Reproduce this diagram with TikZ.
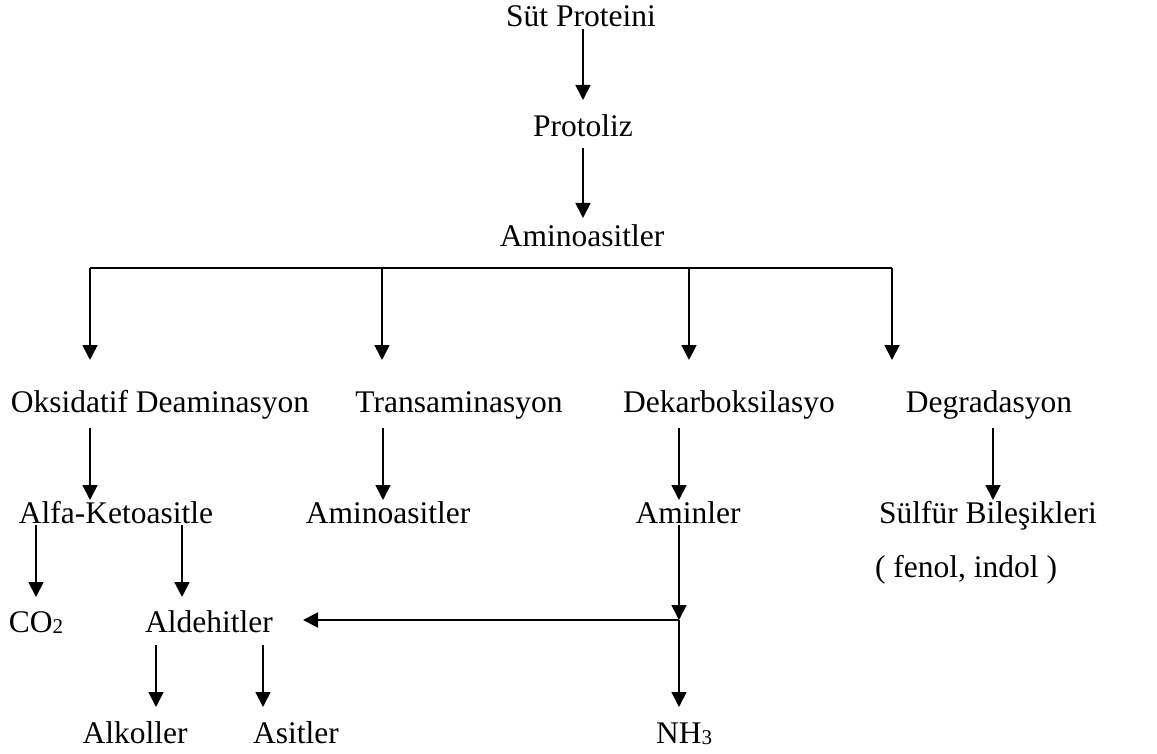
\documentclass[tikz,border=0pt]{standalone}
\usepackage{fontspec}
\setmainfont{Liberation Serif}
\usetikzlibrary{arrows.meta}
\newcommand{\subsc}[1]{\raisebox{-1pt}{\fontsize{21}{21}\selectfont #1}}
\begin{document}
\begin{tikzpicture}[x=1pt,y=-1pt,
  lbl/.style={inner sep=0pt,anchor=base,font=\fontsize{31.5}{36}\selectfont},
  arr/.style={line width=1.8pt,-{Triangle[width=15pt,length=15pt]}},
  ln/.style={line width=1.8pt}]
\useasboundingbox (0,0) rectangle (1157,754);
% texts
\node[lbl] (sut) at (581,27) {Süt Proteini};
\node[lbl] (prot) at (583,137) {Protoliz};
\node[lbl] (amino) at (582,247) {Aminoasitler};
\node[lbl] (oks) at (160,412) {Oksidatif Deaminasyon};
\node[lbl] (trans) at (459,412) {Transaminasyon};
\node[lbl] (dek) at (729,412) {Dekarboksilasyo};
\node[lbl] (deg) at (989,412) {Degradasyon};
\node[lbl] (alfa) at (116,523) {Alfa-Ketoasitle};
\node[lbl] (amino2) at (388,523) {Aminoasitler};
\node[lbl] (aminler) at (688,523) {Aminler};
\node[lbl] (sulfur) at (988,523) {Sülfür Bileşikleri};
\node[lbl] (fenol) at (966,577) {( fenol, indol )};
\node[lbl] (co) at (36,632) {CO\subsc{2}};
\node[lbl] (ald) at (209,632) {Aldehitler};
\node[lbl] (alk) at (135,743) {Alkoller};
\node[lbl] (asit) at (296,743) {Asitler};
\node[lbl] (nh) at (684,743) {NH\subsc{3}};
% coordinates
\coordinate (b1) at (90,268);
\coordinate (b2) at (382,268);
\coordinate (b3) at (689,268);
\coordinate (b4) at (892,268);
\coordinate (j) at (679,620);
% connectors
\draw[arr] (583,29) -- (583,100);
\draw[arr] (583,148) -- (583,218);
\draw[ln] (b1) -- (b4);
\draw[arr] (b1) -- (90,360);
\draw[arr] (b2) -- (382,360);
\draw[arr] (b3) -- (689,360);
\draw[arr] (b4) -- (892,360);
\draw[arr] (90,428) -- (90,500);
\draw[arr] (383,428) -- (383,500);
\draw[arr] (679,428) -- (679,500);
\draw[arr] (993,428) -- (993,500);
\draw[arr] (36,525) -- (36,597);
\draw[arr] (182,525) -- (182,597);
\draw[arr] (679,525) -- (j);
\draw[arr] (j) -- (303,620);
\draw[arr] (j) -- (679,707);
\draw[arr] (156,645) -- (156,707);
\draw[arr] (263,645) -- (263,707);
\end{tikzpicture}
\end{document}
